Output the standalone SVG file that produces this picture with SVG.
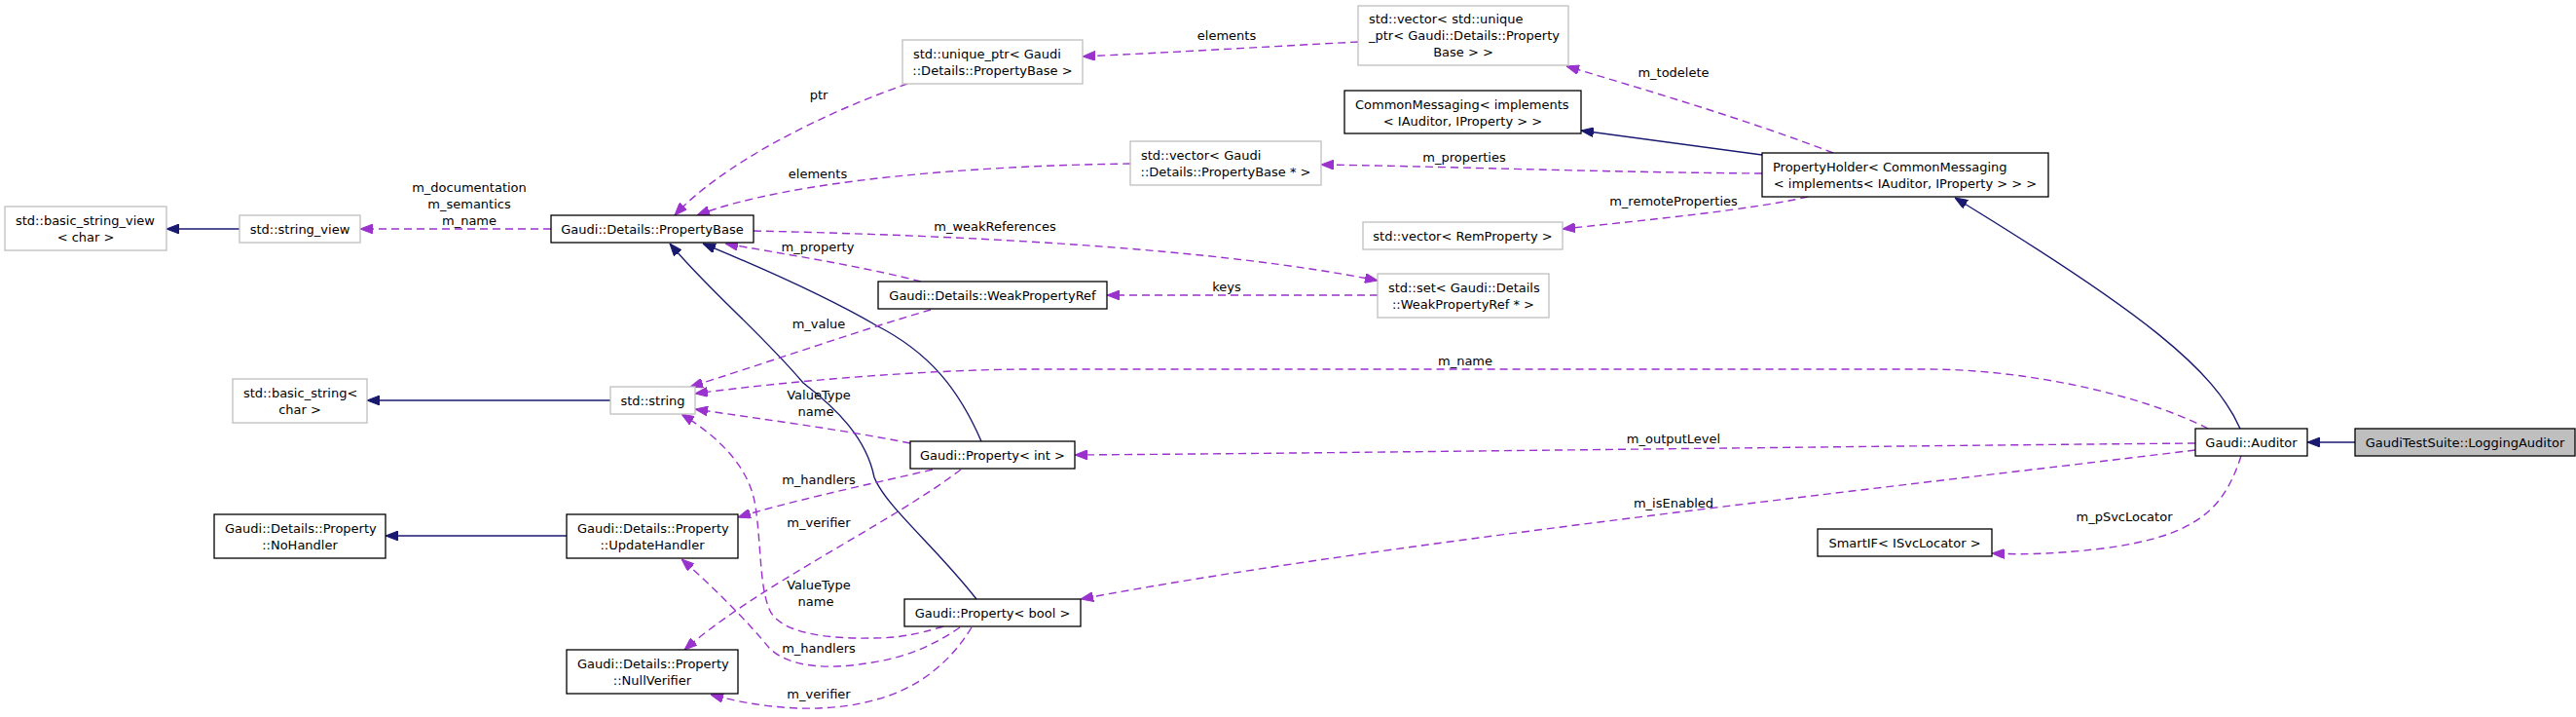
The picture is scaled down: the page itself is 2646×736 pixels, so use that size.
<svg xmlns="http://www.w3.org/2000/svg" width="2646" height="736" viewBox="0 0 2646 736">
<style>
text{font-family:"DejaVu Sans","Liberation Sans",sans-serif;font-size:13px;fill:#000}
.c{text-anchor:middle}
.l{text-anchor:start}
.nb rect{fill:#fff;stroke:#000;stroke-width:1.3}
.ng rect{fill:#fff;stroke:#bfbfbf;stroke-width:1.3}
.nf rect{fill:#bfbfbf;stroke:#000;stroke-width:1.3}
.inh{fill:none;stroke:#191970;stroke-width:1.4;marker-end:url(#an)}
.use{fill:none;stroke:#9a32cd;stroke-width:1.4;stroke-dasharray:8,5;marker-end:url(#ap)}
</style>
<defs>
<marker id="an" markerUnits="userSpaceOnUse" viewBox="0 0 13 10" refX="13" refY="5" markerWidth="13" markerHeight="10" orient="auto"><path d="M0,0 L13,5 L0,10 z" fill="#191970" stroke="#191970"/></marker>
<marker id="ap" markerUnits="userSpaceOnUse" viewBox="0 0 13 10" refX="13" refY="5" markerWidth="13" markerHeight="10" orient="auto"><path d="M0,0 L13,5 L0,10 z" fill="#9a32cd" stroke="#9a32cd"/></marker>
</defs>
<rect width="2646" height="736" fill="#fff"/>
<g id="connectors">
<path class="inh" d="M246,235 L171,235"/>
<path class="inh" d="M627,411 L377,411"/>
<path class="inh" d="M582,550 L396,550"/>
<path class="inh" d="M2419,454 L2370,454"/>
<path class="inh" d="M1810,159 L1624,134"/>
<path class="inh" d="M1008,453 C985,400 955,362 900,334 C855,308 790,278 722,250"/>
<path class="inh" d="M1003,615 C960,560 910,520 898,490 C890,450 860,420 825,393 C780,340 730,300 688,250"/>
<path class="inh" d="M2301,440 C2275,380 2200,320 2008,203"/>
<path class="use" d="M566,235 L370,235"/>
<path class="use" d="M1395,43 C1300,48 1200,54 1112,58"/>
<path class="use" d="M932,86 C840,118 740,170 693,221"/>
<path class="use" d="M1161,168 C1000,170 810,185 716,221"/>
<path class="use" d="M1810,178 C1650,177 1450,170 1357,169"/>
<path class="use" d="M1883,157 C1800,125 1700,95 1609,68"/>
<path class="use" d="M1857,202 C1800,215 1700,225 1605,235"/>
<path class="use" d="M774,237 C1000,242 1250,255 1415,288"/>
<path class="use" d="M1415,303 L1137,303"/>
<path class="use" d="M946,289 C880,272 800,260 745,250"/>
<path class="use" d="M956,318 C880,340 780,375 709,397"/>
<path class="use" d="M2268,440 C2200,405 2080,379 1980,379 L1050,379 C950,380 820,390 714,404"/>
<path class="use" d="M935,455 C860,440 780,430 714,420"/>
<path class="use" d="M958,482 C880,500 810,515 758,531"/>
<path class="use" d="M987,482 C910,540 780,600 703,667"/>
<path class="use" d="M969,643 C940,652 920,655 896,655 C850,656 800,650 790,625 C780,600 782,560 776,520 C770,480 740,450 700,425"/>
<path class="use" d="M986,644 C960,662 930,675 896,680 C850,688 810,685 790,665 C770,640 730,600 700,574"/>
<path class="use" d="M998,644 C975,682 940,708 900,718 C860,730 800,732 730,713"/>
<path class="use" d="M2255,455 C1900,458 1400,465 1104,467"/>
<path class="use" d="M2255,462 C1900,505 1400,560 1110,615"/>
<path class="use" d="M2302,468 C2285,520 2260,550 2160,563 C2100,570 2070,569 2046,568"/>
<g id="edge-labels">
<text class="c" x="482" y="197">m_documentation</text>
<text class="c" x="482" y="214">m_semantics</text>
<text class="c" x="482" y="231">m_name</text>
<text class="c" x="841" y="102">ptr</text>
<text class="c" x="840" y="183">elements</text>
<text class="c" x="1260" y="41">elements</text>
<text class="c" x="1719" y="79">m_todelete</text>
<text class="c" x="1504" y="166">m_properties</text>
<text class="c" x="1719" y="211">m_remoteProperties</text>
<text class="c" x="1022" y="237">m_weakReferences</text>
<text class="c" x="840" y="258">m_property</text>
<text class="c" x="1260" y="299">keys</text>
<text class="c" x="841" y="337">m_value</text>
<text class="c" x="1505" y="375">m_name</text>
<text class="c" x="841" y="410">ValueType</text>
<text class="c" x="838" y="427">name</text>
<text class="c" x="1719" y="455">m_outputLevel</text>
<text class="c" x="841" y="497">m_handlers</text>
<text class="c" x="841" y="541">m_verifier</text>
<text class="c" x="1719" y="521">m_isEnabled</text>
<text class="c" x="2182" y="535">m_pSvcLocator</text>
<text class="c" x="841" y="605">ValueType</text>
<text class="c" x="838" y="622">name</text>
<text class="c" x="841" y="670">m_handlers</text>
<text class="c" x="841" y="717">m_verifier</text>
</g>
</g>
<g id="n_bsv" class="ng"><rect x="5" y="212" width="166" height="45"/><text class="l" x="16" y="231">std::basic_string_view</text><text class="c" x="88" y="248">&lt; char &gt;</text></g>
<g id="n_sv" class="ng"><rect x="246" y="221" width="124" height="28"/><text class="c" x="308" y="239.5">std::string_view</text></g>
<g id="n_pb" class="nb"><rect x="566" y="221" width="208" height="28"/><text class="c" x="670" y="239.5">Gaudi::Details::PropertyBase</text></g>
<g id="n_uptr" class="ng"><rect x="927" y="41" width="185" height="45"/><text class="l" x="938" y="60">std::unique_ptr&lt; Gaudi</text><text class="c" x="1019.5" y="77">::Details::PropertyBase &gt;</text></g>
<g id="n_vuptr" class="ng"><rect x="1395" y="6" width="216" height="61"/><text class="l" x="1406" y="24">std::vector&lt; std::unique</text><text class="l" x="1406" y="41">_ptr&lt; Gaudi::Details::Property</text><text class="c" x="1503" y="58">Base &gt; &gt;</text></g>
<g id="n_cm" class="nb"><rect x="1381" y="93" width="243" height="44"/><text class="l" x="1392" y="111.5">CommonMessaging&lt; implements</text><text class="c" x="1502.5" y="128.5">&lt; IAuditor, IProperty &gt; &gt;</text></g>
<g id="n_vpb" class="ng"><rect x="1161" y="145" width="196" height="45"/><text class="l" x="1172" y="164">std::vector&lt; Gaudi</text><text class="c" x="1259" y="181">::Details::PropertyBase * &gt;</text></g>
<g id="n_ph" class="nb"><rect x="1810" y="157" width="294" height="45"/><text class="l" x="1821" y="176">PropertyHolder&lt; CommonMessaging</text><text class="c" x="1957" y="193">&lt; implements&lt; IAuditor, IProperty &gt; &gt; &gt;</text></g>
<g id="n_vrem" class="ng"><rect x="1400" y="228" width="205" height="28"/><text class="c" x="1502.5" y="246.5">std::vector&lt; RemProperty &gt;</text></g>
<g id="n_set" class="ng"><rect x="1415" y="281" width="176" height="45"/><text class="l" x="1426" y="300">std::set&lt; Gaudi::Details</text><text class="c" x="1503" y="317">::WeakPropertyRef * &gt;</text></g>
<g id="n_wpr" class="nb"><rect x="902" y="289" width="235" height="28"/><text class="c" x="1019.5" y="307.5">Gaudi::Details::WeakPropertyRef</text></g>
<g id="n_bs" class="ng"><rect x="239" y="389" width="138" height="45"/><text class="l" x="250" y="408">std::basic_string&lt;</text><text class="c" x="308" y="425">char &gt;</text></g>
<g id="n_str" class="ng"><rect x="627" y="397" width="87" height="28"/><text class="c" x="670.5" y="415.5">std::string</text></g>
<g id="n_pint" class="nb"><rect x="935" y="453" width="169" height="28"/><text class="c" x="1019.5" y="471.5">Gaudi::Property&lt; int &gt;</text></g>
<g id="n_noh" class="nb"><rect x="220" y="528" width="176" height="45"/><text class="l" x="231" y="547">Gaudi::Details::Property</text><text class="c" x="308" y="564">::NoHandler</text></g>
<g id="n_uh" class="nb"><rect x="582" y="528" width="176" height="45"/><text class="l" x="593" y="547">Gaudi::Details::Property</text><text class="c" x="670" y="564">::UpdateHandler</text></g>
<g id="n_pbool" class="nb"><rect x="929" y="615" width="181" height="28"/><text class="c" x="1019.5" y="633.5">Gaudi::Property&lt; bool &gt;</text></g>
<g id="n_nv" class="nb"><rect x="582" y="667" width="176" height="45"/><text class="l" x="593" y="686">Gaudi::Details::Property</text><text class="c" x="670" y="703">::NullVerifier</text></g>
<g id="n_aud" class="nb"><rect x="2255" y="440" width="115" height="28"/><text class="c" x="2312.5" y="458.5">Gaudi::Auditor</text></g>
<g id="n_la" class="nf"><rect x="2419" y="440" width="226" height="28"/><text class="c" x="2532" y="458.5">GaudiTestSuite::LoggingAuditor</text></g>
<g id="n_sif" class="nb"><rect x="1867" y="543" width="179" height="28"/><text class="c" x="1956.5" y="561.5">SmartIF&lt; ISvcLocator &gt;</text></g>
</svg>
